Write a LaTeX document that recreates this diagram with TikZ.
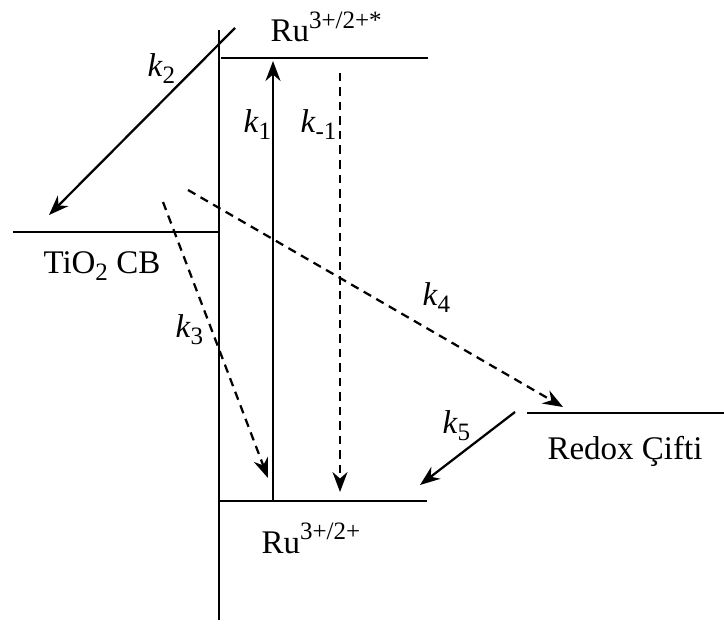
\documentclass[tikz,border=0pt]{standalone}
\usepackage{fontspec}
\setmainfont{Liberation Serif}
\usetikzlibrary{arrows.meta, positioning}
\newcommand{\up}[1]{\raisebox{5.5pt}{\fontsize{10}{12}\selectfont #1}}
\newcommand{\dn}[1]{\raisebox{-2.8pt}{\fontsize{10}{12}\selectfont #1}}
\newcommand{\kk}[1]{\textit{k}\dn{#1}}

\begin{document}
\begin{tikzpicture}[x=0.4pt, y=-0.4pt,
  level/.style={line width=1.1pt},
  trans/.style={line width=0.9pt, -{Stealth[length=8pt,width=6pt]}},
  slow/.style={trans, dash pattern=on 3.4pt off 2.4pt},
  lab/.style={font=\fontsize{13.2}{15}\selectfont, inner sep=0pt, anchor=base west}]
\useasboundingbox (0,0) rectangle (724,625);
% levels
\coordinate (axtop) at (219,30);
\coordinate (axbot) at (219,620);
\coordinate (excL) at (221,58);
\coordinate (excR) at (428,58);
\coordinate (cbL) at (13,232);
\coordinate (cbR) at (219,232);
\coordinate (gndL) at (219,501);
\coordinate (gndR) at (427,501);
\coordinate (redL) at (527,413);
\coordinate (redR) at (724,413);
\draw[level] (axtop) -- (axbot);
\draw[level] (excL) -- (excR);
\draw[level] (cbL) -- (cbR);
\draw[level] (gndL) -- (gndR);
\draw[level] (redL) -- (redR);
% transfers
\coordinate (k1s) at (273,501);
\coordinate (k1e) at (273,61);
\coordinate (km1s) at (340,73);
\coordinate (km1e) at (340,492);
\coordinate (k2s) at (235,28);
\coordinate (k2e) at (49,215);
\coordinate (k3s) at (163,202);
\coordinate (k3e) at (268,478);
\coordinate (k4s) at (188,190);
\coordinate (k4e) at (563,407);
\coordinate (k5s) at (515,412);
\coordinate (k5e) at (420,485);
\draw[trans] (k1s) -- (k1e);
\draw[slow] (km1s) -- (km1e);
\draw[trans] (k2s) -- (k2e);
\draw[slow] (k3s) -- (k3e);
\draw[slow] (k4s) -- (k4e);
\draw[trans] (k5s) -- (k5e);
% labels
\node[lab] (exc) at (270,42) {Ru\up{3+/2+*}};
\node[lab] (gnd) at (261,553) {Ru\up{3+/2+}};
\node[lab] (cb) at (43,273) {TiO\dn{2} CB};
\node[lab] (redox) at (547,459) {Redox Çifti};
\node[lab] (lk1) at (243,133) {\kk{1}};
\node[lab] (lkm1) at (300,133) {\kk{-1}};
\node[lab] (lk2) at (147,77) {\kk{2}};
\node[lab] (lk3) at (175,337) {\kk{3}};
\node[lab] (lk4) at (422,305) {\kk{4}};
\node[lab] (lk5) at (442,433) {\kk{5}};
\end{tikzpicture}
\end{document}
